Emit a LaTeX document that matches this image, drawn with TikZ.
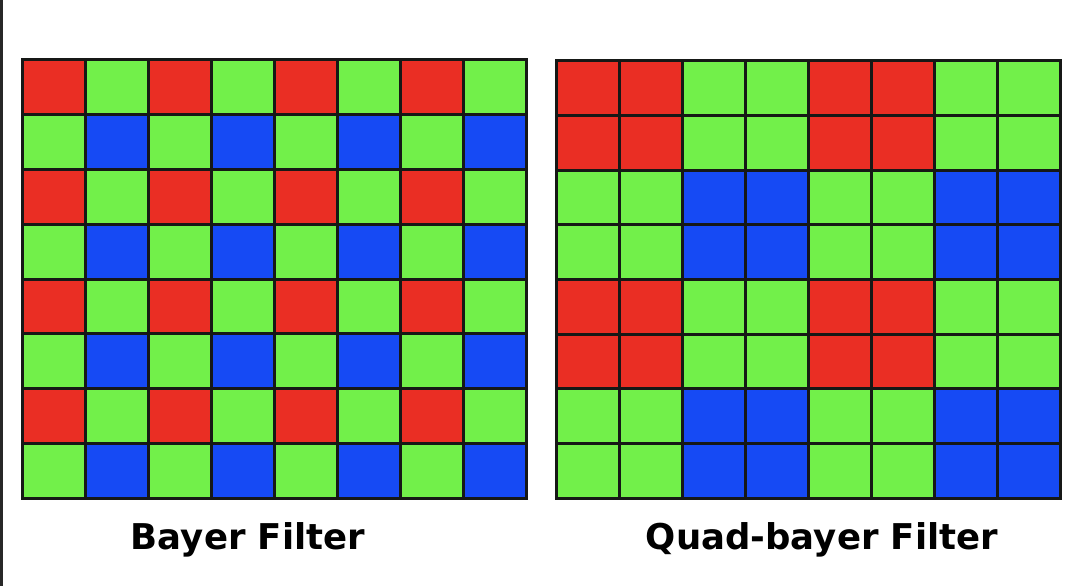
\documentclass[tikz,border=0pt]{standalone}
\usepackage{fontspec}
\newfontfamily\labelfont{DejaVu Sans}
\definecolor{cred}{RGB}{234,46,36}
\definecolor{cgreen}{RGB}{114,240,74}
\definecolor{cblue}{RGB}{22,74,244}
\definecolor{cline}{RGB}{22,24,22}
\definecolor{cedge}{RGB}{40,40,40}
\begin{document}
\begin{tikzpicture}[x=1pt,y=-1pt,
  gridline/.style={draw=cline,line width=3pt,line cap=rect},
  caption/.style={font=\labelfont\bfseries\fontsize{35.5}{40}\selectfont,text=black,anchor=base,inner sep=0pt}]
\useasboundingbox (0,0) rectangle (1080,586);
\fill[white] (0,0) rectangle (1080,586);
\fill[cedge] (0,0) rectangle (3,586);
% Bayer grid
\foreach \r in {0,...,7}{
  \foreach \c in {0,...,7}{
    \pgfmathtruncatemacro{\rr}{mod(\r,2)}
    \pgfmathtruncatemacro{\cc}{mod(\c,2)}
    \pgfmathtruncatemacro{\k}{\rr*2+\cc}
    \ifcase\k \def\col{cred}\or \def\col{cgreen}\or \def\col{cgreen}\or \def\col{cblue}\fi
    \fill[\col] ({22+63*\c},{60+54.75*\r}) rectangle ({22+63*(\c+1)},{60+54.75*(\r+1)});
  }
}
\foreach \c in {0,...,8}{\draw[gridline] ({22+63*\c},60) -- ({22+63*\c},498);}
\foreach \r in {0,...,8}{\draw[gridline] (22,{60+54.75*\r}) -- (526,{60+54.75*\r});}
% Quad-bayer grid
\foreach \r in {0,...,7}{
  \foreach \c in {0,...,7}{
    \pgfmathtruncatemacro{\rr}{mod(int(\r/2),2)}
    \pgfmathtruncatemacro{\cc}{mod(int(\c/2),2)}
    \pgfmathtruncatemacro{\k}{\rr*2+\cc}
    \ifcase\k \def\col{cred}\or \def\col{cgreen}\or \def\col{cgreen}\or \def\col{cblue}\fi
    \fill[\col] ({556+63*\c},{61+54.625*\r}) rectangle ({556+63*(\c+1)},{61+54.625*(\r+1)});
  }
}
\foreach \c in {0,...,8}{\draw[gridline] ({556+63*\c},61) -- ({556+63*\c},498);}
\foreach \r in {0,...,8}{\draw[gridline] (556,{61+54.625*\r}) -- (1060,{61+54.625*\r});}
\node[caption] (bayer) at (248,549) {Bayer Filter};
\node[caption] (quad) at (822,549) {Quad-bayer Filter};
\end{tikzpicture}
\end{document}
